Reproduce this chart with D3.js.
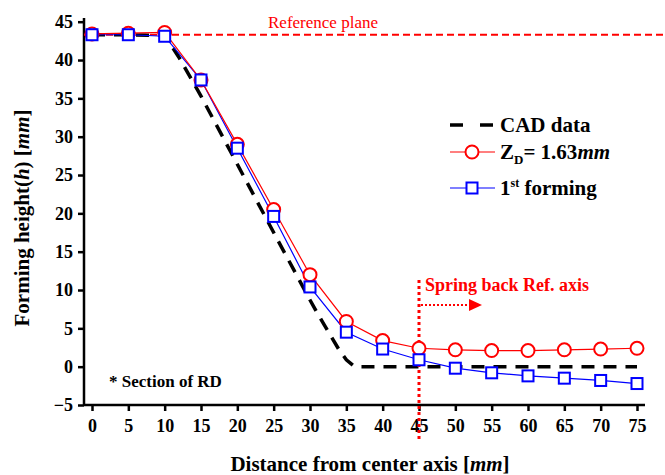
<!DOCTYPE html>
<html>
<head>
<meta charset="utf-8">
<script src="https://d3js.org/d3.v7.min.js"></script>
<style>
  body { margin: 0; background: #fff; }
  svg text { font-family: 'Liberation Serif', 'Times New Roman', Times, 'DejaVu Serif', serif !important; }
</style>
</head>
<body>
<div id="chart"></div>
<script>
// data
var xs = [0, 5, 10, 15, 20, 25, 30, 35, 40, 45, 50, 55, 60, 65, 70, 75];
var zd = [43.4, 43.5, 43.6, 37.4, 29.0, 20.5, 12.0, 5.9, 3.4, 2.4, 2.2, 2.1, 2.1, 2.2, 2.3, 2.4];
var first = [43.3, 43.3, 43.1, 37.4, 28.5, 19.6, 10.4, 4.5, 2.3, 0.9, -0.2, -0.8, -1.2, -1.5, -1.8, -2.2];
var cadX = [0, 5, 10, 12, 15, 20, 25, 30, 31, 32, 33, 34, 35, 36, 37, 40, 45, 50, 55, 60, 65, 70, 75];
var cadY = [43.3, 43.3, 43.2, 40.3, 35.3, 26.4, 17.5, 8.7, 7.0, 5.4, 3.8, 2.2, 0.9, 0.1, 0, 0, 0, 0, 0, 0, 0, 0, 0];
var xTicks = d3.range(0, 80, 5);
var yTicks = d3.range(-5, 50, 5);
var refPlane = 43.3;
var springX = 45;

var width = 665, height = 475;
var margin = { left: 84, right: 20, top: 18, bottom: 70 };
var serif = "'Liberation Serif', 'Times New Roman', Times, 'DejaVu Serif', serif";

var svg = d3.select('#chart').append('svg')
    .attr('width', width)
    .attr('height', height)
    .attr('font-family', serif);

var x = d3.scaleLinear().domain([0, 75]).range([92, 637]);
var y = d3.scaleLinear().domain([-5, 45]).range([405, 21.7]);

// axes
var xAxis = svg.append('g')
    .attr('transform', 'translate(0,405)')
    .call(d3.axisBottom(x).tickValues(xTicks).tickSize(6).tickPadding(8).tickSizeOuter(0));
xAxis.select('.domain').attr('d', 'M' + margin.left + ',0H645').attr('stroke-width', 2.5);

var yAxis = svg.append('g')
    .attr('transform', 'translate(' + margin.left + ',0)')
    .call(d3.axisLeft(y).tickValues(yTicks).tickSize(6).tickPadding(5).tickSizeOuter(0));
yAxis.select('.domain').attr('d', 'M0,405V' + margin.top).attr('stroke-width', 2.5);

svg.selectAll('g').attr('font-family', serif);
svg.selectAll('.tick line').attr('stroke-width', 2.5);
svg.selectAll('.tick text')
    .style('font-weight', 'bold')
    .style('font-size', '18px')
    .attr('fill', '#000');

// axis titles
var xt = svg.append('text')
    .attr('x', 370).attr('y', 471)
    .attr('text-anchor', 'middle')
    .style('font-weight', 'bold').style('font-size', '21px');
xt.append('tspan').text('Distance from center axis [');
xt.append('tspan').style('font-style', 'italic').text('mm');
xt.append('tspan').text(']');

var yt = svg.append('text')
    .attr('transform', 'translate(29,218) rotate(-90)')
    .attr('text-anchor', 'middle')
    .style('font-weight', 'bold').style('font-size', '21px');
yt.append('tspan').text('Forming height(');
yt.append('tspan').style('font-style', 'italic').text('h');
yt.append('tspan').text(') [');
yt.append('tspan').style('font-style', 'italic').text('mm');
yt.append('tspan').text(']');

// reference plane
svg.append('line')
    .attr('x1', margin.left).attr('x2', width)
    .attr('y1', y(refPlane)).attr('y2', y(refPlane))
    .attr('stroke', '#ff0000').attr('stroke-width', 2)
    .attr('stroke-dasharray', '7,4');
svg.append('text')
    .attr('x', 323).attr('y', 28)
    .attr('text-anchor', 'middle')
    .attr('fill', '#ff0000')
    .style('font-size', '17px')
    .text('Reference plane');

// CAD line
var line = d3.line().x(d => x(d[0])).y(d => y(d[1]));
svg.append('path')
    .datum(cadX.map((v, i) => [v, cadY[i]]))
    .attr('d', line)
    .attr('fill', 'none')
    .attr('stroke', '#000')
    .attr('stroke-width', 3.5)
    .attr('stroke-dasharray', '13,9');

// spring back axis
svg.append('line')
    .attr('x1', x(springX)).attr('x2', x(springX))
    .attr('y1', 280).attr('y2', 442)
    .attr('stroke', '#ff0000').attr('stroke-width', 3)
    .attr('stroke-dasharray', '3,3');
svg.append('line')
    .attr('x1', x(springX) + 2).attr('x2', x(springX) + 52)
    .attr('y1', 305).attr('y2', 305)
    .attr('stroke', '#ff0000').attr('stroke-width', 2)
    .attr('stroke-dasharray', '2,2');
svg.append('path')
    .attr('d', 'M' + (x(springX) + 50) + ',299L' + (x(springX) + 63) + ',305L' + (x(springX) + 50) + ',311Z')
    .attr('fill', '#ff0000');
svg.append('text')
    .attr('x', 425).attr('y', 291)
    .attr('fill', '#ff0000')
    .style('font-weight', 'bold').style('font-size', '18px')
    .text('Spring back Ref. axis');

// 1st forming
svg.append('path')
    .datum(xs.map((v, i) => [v, first[i]]))
    .attr('d', line)
    .attr('fill', 'none').attr('stroke', '#0000ff').attr('stroke-width', 1.2);
// Z_D
svg.append('path')
    .datum(xs.map((v, i) => [v, zd[i]]))
    .attr('d', line)
    .attr('fill', 'none').attr('stroke', '#ff0000').attr('stroke-width', 1.2);

svg.selectAll('.circ')
    .data(xs.map((v, i) => [v, zd[i]]))
    .enter().append('circle')
    .attr('class', 'circ')
    .attr('cx', d => x(d[0])).attr('cy', d => y(d[1]))
    .attr('r', 6.5)
    .attr('fill', '#fff').attr('stroke', '#ff0000').attr('stroke-width', 2);

svg.selectAll('.sq')
    .data(xs.map((v, i) => [v, first[i]]))
    .enter().append('rect')
    .attr('class', 'sq')
    .attr('x', d => x(d[0]) - 5.5).attr('y', d => y(d[1]) - 5.5)
    .attr('width', 11).attr('height', 11)
    .attr('fill', '#fff').attr('stroke', '#0000ff').attr('stroke-width', 2);

// legend
var lg = svg.append('g');
lg.append('line')
    .attr('x1', 450).attr('x2', 493).attr('y1', 125).attr('y2', 125)
    .attr('stroke', '#000').attr('stroke-width', 3.5).attr('stroke-dasharray', '13,17');
lg.append('line')
    .attr('x1', 450).attr('x2', 495).attr('y1', 152).attr('y2', 152)
    .attr('stroke', '#ff0000').attr('stroke-width', 1.2);
lg.append('circle')
    .attr('cx', 472).attr('cy', 152).attr('r', 6.5)
    .attr('fill', '#fff').attr('stroke', '#ff0000').attr('stroke-width', 2);
lg.append('line')
    .attr('x1', 450).attr('x2', 495).attr('y1', 188).attr('y2', 188)
    .attr('stroke', '#0000ff').attr('stroke-width', 1.2);
lg.append('rect')
    .attr('x', 466.5).attr('y', 182.5).attr('width', 11).attr('height', 11)
    .attr('fill', '#fff').attr('stroke', '#0000ff').attr('stroke-width', 2);

lg.append('text').attr('x', 500).attr('y', 132)
    .style('font-weight', 'bold').style('font-size', '21px').text('CAD data');
var t2 = lg.append('text').attr('x', 500).attr('y', 159)
    .style('font-weight', 'bold').style('font-size', '21px');
t2.append('tspan').text('Z');
t2.append('tspan').attr('dy', 5).style('font-size', '13px').text('D');
t2.append('tspan').attr('dy', -5).text('= 1.63');
t2.append('tspan').style('font-style', 'italic').text('mm');
var t3 = lg.append('text').attr('x', 500).attr('y', 195)
    .style('font-weight', 'bold').style('font-size', '21px');
t3.append('tspan').text('1');
t3.append('tspan').attr('dy', -8).style('font-size', '12px').text('st');
t3.append('tspan').attr('dy', 8).text(' forming');

// note
svg.append('text')
    .attr('x', 109).attr('y', 387)
    .style('font-weight', 'bold').style('font-size', '17px')
    .text('* Section of RD');
</script>
</body>
</html>
